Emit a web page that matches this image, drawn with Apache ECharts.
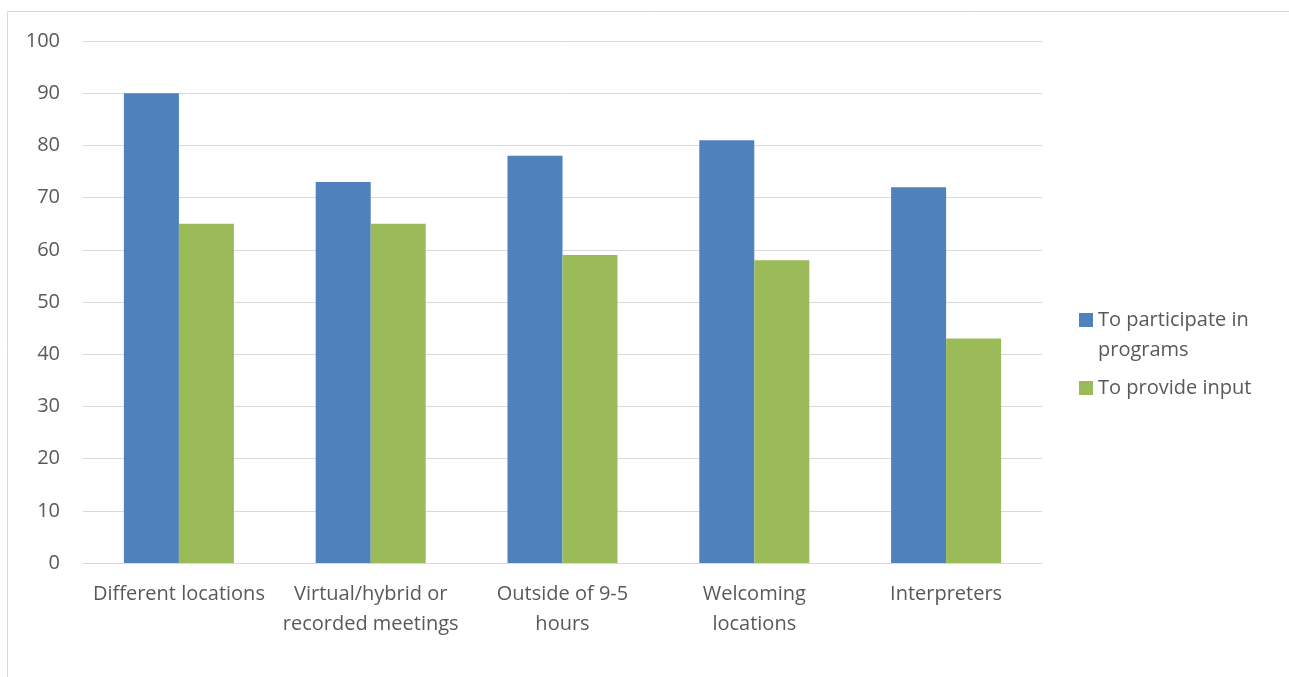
<!DOCTYPE html>
<html>
<head>
<meta charset="utf-8">
<script src="https://cdn.jsdelivr.net/npm/echarts@6/dist/echarts.min.js"></script>
<style>
  html, body { margin: 0; padding: 0; background: #fff; }
  #chart { width: 1289px; height: 677px; }
</style>
</head>
<body>
<div id="chart"></div>
<script>
// Categories and values
const categories = [
  'Different locations',
  'Virtual/hybrid or\nrecorded meetings',
  'Outside of 9-5\nhours',
  'Welcoming\nlocations',
  'Interpreters'
];
const participate = [90, 73, 78, 81, 72];
const provideInput = [65, 65, 59, 58, 43];
const seriesNames = ['To participate in programs', 'To provide input'];
// The leading blank line keeps the marker level with the first line of a wrapped label
const legendLabels = {
  'To participate in programs': '\nTo participate in\nprograms',
  'To provide input': 'To provide input'
};

const textColor = '#595959';
const fontFamily = '"Open Sans", "Liberation Sans", sans-serif';
const fontSize = 20;

const chart = echarts.init(document.getElementById('chart'), null, { renderer: 'canvas' });
chart.setOption({
  animation: false,
  backgroundColor: '#ffffff',
  textStyle: { fontFamily: fontFamily, color: textColor },
  graphic: [{
    type: 'rect',
    shape: { x: 7.5, y: 11.5, width: 1300, height: 700 },
    style: { fill: 'none', stroke: '#d9d9d9', lineWidth: 1 },
    silent: true
  }],
  grid: { left: 83, right: 247, top: 41, bottom: 114, containLabel: false },
  legend: {
    orient: 'vertical',
    left: 1079,
    top: 275,
    padding: 0,
    itemWidth: 14,
    itemHeight: 14,
    itemGap: 8,
    icon: 'rect',
    data: seriesNames,
    formatter: name => legendLabels[name],
    textStyle: { fontSize: fontSize, color: textColor, lineHeight: 30, fontFamily: fontFamily }
  },
  xAxis: {
    type: 'category',
    data: categories,
    axisLine: { show: true, lineStyle: { color: '#d9d9d9', width: 1 } },
    axisTick: { show: false },
    axisLabel: {
      color: textColor, fontSize: fontSize, lineHeight: 30, margin: 16,
      fontFamily: fontFamily, interval: 0
    }
  },
  yAxis: {
    type: 'value',
    min: 0, max: 100, interval: 10,
    axisLine: { show: false },
    axisTick: { show: false },
    splitLine: { lineStyle: { color: '#d9d9d9', width: 1 } },
    axisLabel: { color: textColor, fontSize: fontSize, margin: 23, fontFamily: fontFamily }
  },
  series: [
    {
      name: seriesNames[0], type: 'bar', data: participate,
      barWidth: 55, barGap: '0%',
      itemStyle: { color: '#4f81bd' }
    },
    {
      name: seriesNames[1], type: 'bar', data: provideInput,
      barWidth: 55,
      itemStyle: { color: '#9bbb59' }
    }
  ]
});
</script>
</body>
</html>
